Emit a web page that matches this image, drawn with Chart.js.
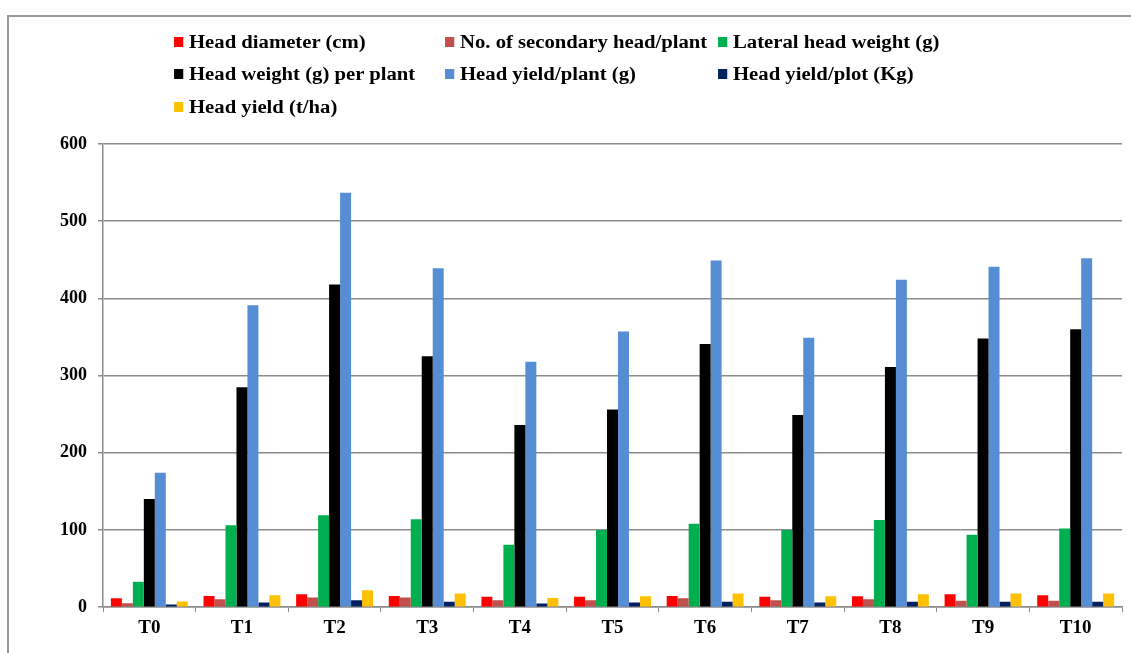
<!DOCTYPE html>
<html>
<head>
<meta charset="utf-8">
<script src="https://cdn.jsdelivr.net/npm/chart.js@4"></script>
<style>
  body { margin: 0; background: #fff; }
  #wrap { position: relative; width: 1131px; height: 653px; overflow: hidden; }
  #frame { position: absolute; left: 7px; top: 15px; width: 1200px; height: 700px;
           border-top: 2px solid #999; border-left: 2px solid #999; }
  #chart { position: absolute; left: 0; top: 0; }
  .lg { position: absolute; font: bold 18px "Liberation Serif", "Times New Roman", serif;
        color: #000; white-space: nowrap; line-height: 20px;
        transform: scaleX(1.15); transform-origin: left center; }
  .lg i { position: absolute; left: -13px; top: 5px; width: 8px; height: 10px; }
</style>
</head>
<body>
<div id="wrap">
  <div id="frame"></div>
  <canvas id="chart" width="1131" height="653"></canvas>
  <div id="legend"></div>
</div>
<script>
const categories = ['T0', 'T1', 'T2', 'T3', 'T4', 'T5', 'T6', 'T7', 'T8', 'T9', 'T10'];

const seriesNames = [
    'Head diameter (cm)',
    'No. of secondary head/plant',
    'Lateral head weight (g)',
    'Head weight (g) per plant',
    'Head yield/plant (g)',
    'Head yield/plot (Kg)',
    'Head yield (t/ha)'
];
const seriesColors = ['#FF0000', '#C0504D', '#00B050', '#000000', '#558ED5', '#002060', '#FFC000'];

const headDiameter   = [11.6, 14.6, 16.8, 14.6, 13.4, 13.4, 14.6, 13.4, 14.2, 16.8, 15.5];
const secondaryHeads = [5, 10.4, 12.5, 12.5, 9, 9, 11.6, 9, 10.4, 8.2, 8.2];
const lateralWeight  = [33, 106, 119, 114, 81, 100, 108, 100, 113, 94, 102];
const headWeight     = [140, 285, 418, 325, 236, 256, 341, 249, 311, 348, 360];
const yieldPlant     = [174, 391, 537, 439, 318, 357, 449, 349, 424, 441, 452];
const yieldPlot      = [3.5, 6, 9, 6.9, 4.7, 6, 6.9, 6, 6.9, 6.9, 6.9];
const yieldHa        = [7.4, 15.5, 22, 17.7, 12, 14.2, 17.7, 14.2, 16.8, 17.7, 17.7];

const yTicks = [0, 100, 200, 300, 400, 500, 600];

const allSeries = [headDiameter, secondaryHeads, lateralWeight, headWeight, yieldPlant, yieldPlot, yieldHa];

// legend laid out in three fixed columns like the original
const legendSpots = [
    [189, 32], [460, 32], [733, 32],
    [189, 64], [460, 64], [733, 64],
    [189, 97]
];
const legendBox = document.getElementById('legend');
seriesNames.forEach((name, i) => {
    const d = document.createElement('div');
    d.className = 'lg';
    d.style.left = legendSpots[i][0] + 'px';
    d.style.top = legendSpots[i][1] + 'px';
    d.innerHTML = '<i style="background:' + seriesColors[i] + '"></i>' + name;
    legendBox.appendChild(d);
});

const ctx = document.getElementById('chart').getContext('2d');
new Chart(ctx, {
    type: 'bar',
    data: {
        labels: categories,
        datasets: allSeries.map((vals, i) => ({
            label: seriesNames[i],
            data: vals,
            backgroundColor: seriesColors[i],
            borderWidth: 0,
            categoryPercentage: 0.83,
            barPercentage: 1.0
        }))
    },
    options: {
        responsive: false,
        animation: false,
        layout: { padding: { left: 49, right: 9, top: 144, bottom: 10 } },
        plugins: {
            legend: { display: false },
            tooltip: { enabled: false }
        },
        scales: {
            x: {
                grid: { drawOnChartArea: false, color: '#8c8c8c', tickLength: 5 },
                border: { color: '#8c8c8c', width: 1.5 },
                ticks: {
                    color: '#000',
                    padding: 4,
                    font: { family: '"Liberation Serif", serif', size: 19, weight: 'bold' }
                }
            },
            y: {
                min: 0,
                max: 600,
                afterBuildTicks: axis => { axis.ticks = yTicks.map(v => ({ value: v })); },
                grid: { color: '#8c8c8c', lineWidth: 1.5, tickLength: 5 },
                border: { color: '#8c8c8c', width: 1.5 },
                ticks: {
                    color: '#000',
                    padding: 11,
                    font: { family: '"Liberation Serif", serif', size: 18, weight: 'bold' }
                }
            }
        }
    }
});
</script>
</body>
</html>
